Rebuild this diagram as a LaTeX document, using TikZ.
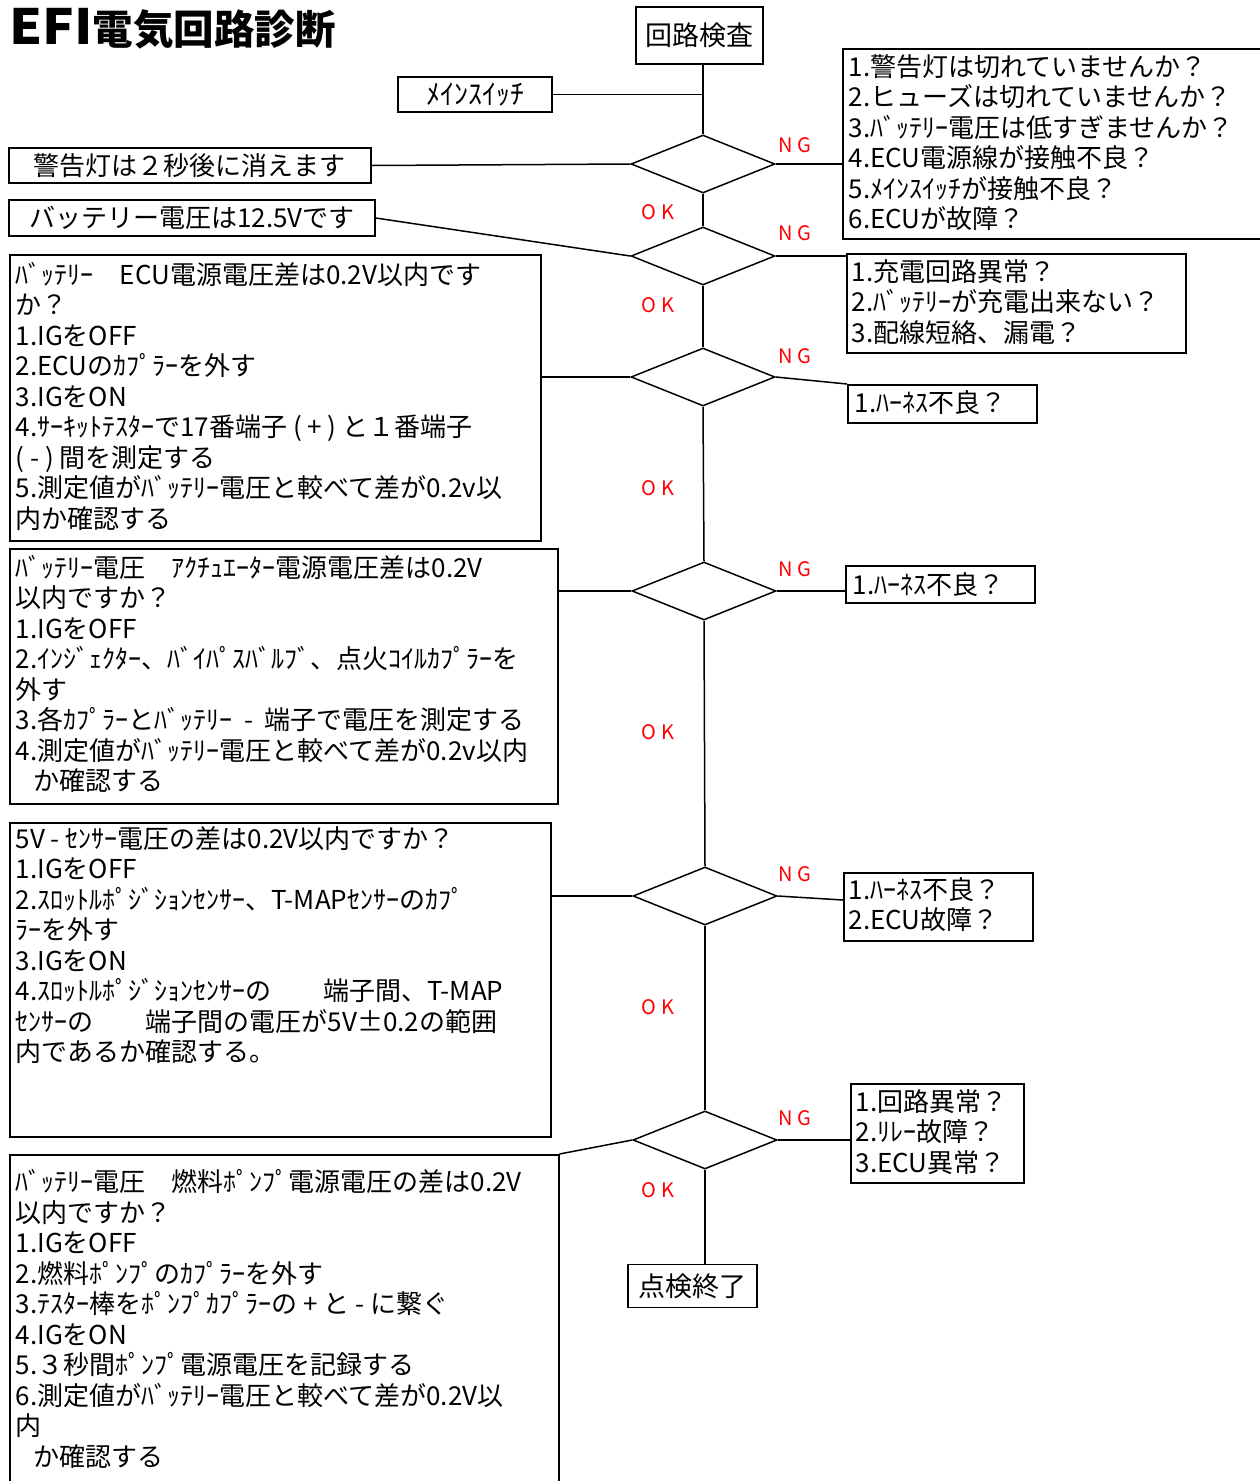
\documentclass[tikz,border=0pt]{standalone}
\usepackage{fontspec}
\newfontfamily\jp{Noto Sans CJK JP}
\usetikzlibrary{shapes.geometric}
\newcommand{\tb}[4]{\begin{minipage}[t][#2][t]{#1}\vspace*{#3}\raggedright\rule{0pt}{22pt}#4\end{minipage}}
\begin{document}
\begin{tikzpicture}[x=1pt,y=-1pt,
  bx/.style={draw, line width=1.5pt, inner xsep=6pt, inner ysep=0pt, anchor=north west, font=\fontsize{26pt}{30.5pt}\jp},
  cb/.style={draw, line width=1.5pt, inner sep=0pt, align=center, font=\fontsize{26pt}{30pt}\jp},
  dia/.style={draw, diamond, line width=1.5pt, minimum width=144pt, minimum height=58pt, inner sep=0pt},
  lab/.style={text=red, inner sep=0pt, font=\fontsize{20pt}{20pt}\jp},
  ln/.style={line width=1.5pt}]
\useasboundingbox (0,0) rectangle (1260,1481);
\clip (0,0) rectangle (1260,1481);

% title
\node[anchor=base west, inner sep=0pt, font=\fontsize{40.5pt}{41pt}\jp\bfseries] (title) at (9,44) {\scalebox{1.3}[1.2]{EFI}電気回路診断};

% centered single-line boxes
\node[cb, minimum width=127pt, minimum height=57pt, font=\fontsize{27pt}{30pt}\jp] (kairo) at (699.5,35.5) {回路検査};
\node[cb, minimum width=154pt, minimum height=35pt, font=\fontsize{28pt}{30pt}\jp] (main) at (475,94.5) {ﾒｲﾝｽｲｯﾁ};
\node[cb, minimum width=362pt, minimum height=35pt] (warn) at (190,165.5) {警告灯は２秒後に消えます};
\node[cb, minimum width=366pt, minimum height=36pt] (batt) at (192,218) {バッテリー電圧は12.5Vです};
\node[cb, minimum width=129pt, minimum height=43pt, font=\fontsize{27pt}{30pt}\jp] (end) at (692.5,1286) {点検終了};

% diamonds
\node[dia] (D1) at (703,164) {};
\node[dia] (D2) at (703,256) {};
\node[dia] (D3) at (703,377) {};
\node[dia] (D4) at (704,591) {};
\node[dia] (D5) at (705,896) {};
\node[dia] (D6) at (705,1140) {};

% left boxes
\node[bx] (B3) at (9,254) {\tb{519pt}{286pt}{7.5pt}{ﾊﾞｯﾃﾘｰ　ECU電源電圧差は0.2V以内です\\
か？\\
1.IGをOFF\\
2.ECUのｶﾌﾟﾗｰを外す\\
3.IGをON\\
4.ｻｰｷｯﾄﾃｽﾀｰで17番端子~(~+~)~と１番端子\\
(~-~)~間を測定する\\
5.測定値がﾊﾞｯﾃﾘｰ電圧と較べて差が0.2v以\\
内か確認する}};

\node[bx] (B4) at (9,548) {\tb{536pt}{255pt}{6.5pt}{ﾊﾞｯﾃﾘｰ電圧　ｱｸﾁｭｴｰﾀｰ電源電圧差は0.2V\\
以内ですか？\\
1.IGをOFF\\
2.ｲﾝｼﾞｪｸﾀｰ、ﾊﾞｲﾊﾟｽﾊﾞﾙﾌﾞ、点火ｺｲﾙｶﾌﾟﾗｰを\\
外す\\
3.各ｶﾌﾟﾗｰとﾊﾞｯﾃﾘｰ~~-~~端子で電圧を測定する\\
4.測定値がﾊﾞｯﾃﾘｰ電圧と較べて差が0.2v以内\\
\hspace*{18pt}か確認する}};

\node[bx] (B5) at (9,822) {\tb{529pt}{314pt}{3.5pt}{5V~-~ｾﾝｻｰ電圧の差は0.2V以内ですか？\\
1.IGをOFF\\
2.ｽﾛｯﾄﾙﾎﾟｼﾞｼｮﾝｾﾝｻｰ、T-MAPｾﾝｻｰのｶﾌﾟ\\
ﾗｰを外す\\
3.IGをON\\
4.ｽﾛｯﾄﾙﾎﾟｼﾞｼｮﾝｾﾝｻｰの　　端子間、T-MAP\\
ｾﾝｻｰの　　端子間の電圧が5V±0.2の範囲\\
内であるか確認する。}};

\node[bx] (B6) at (9,1154) {\tb{537pt}{350pt}{15pt}{ﾊﾞｯﾃﾘｰ電圧　燃料ﾎﾟﾝﾌﾟ電源電圧の差は0.2V\\
以内ですか？\\
1.IGをOFF\\
2.燃料ﾎﾟﾝﾌﾟのｶﾌﾟﾗｰを外す\\
3.ﾃｽﾀｰ棒をﾎﾟﾝﾌﾟｶﾌﾟﾗｰの~+~と~-~に繋ぐ\\
4.IGをON\\
5.３秒間ﾎﾟﾝﾌﾟ電源電圧を記録する\\
6.測定値がﾊﾞｯﾃﾘｰ電圧と較べて差が0.2V以\\
内\\
\hspace*{18pt}か確認する}};

% right boxes
\node[bx] (R1) at (842,48) {\tb{448pt}{190pt}{5.5pt}{1.警告灯は切れていませんか？\\
2.ヒューズは切れていませんか？\\
3.ﾊﾞｯﾃﾘｰ電圧は低すぎませんか？\\
4.ECU電源線が接触不良？\\
5.ﾒｲﾝｽｲｯﾁが接触不良？\\
6.ECUが故障？}};
\node[bx, inner xsep=5pt] (R2) at (846,253) {\tb{329pt}{99pt}{5.5pt}{1.充電回路異常？\\
2.ﾊﾞｯﾃﾘｰが充電出来ない？\\
3.配線短絡、漏電？}};
\node[bx, inner xsep=7pt] (H1) at (847,384) {\tb{175pt}{38pt}{5.5pt}{1.ﾊｰﾈｽ不良？}};
\node[bx, inner xsep=7pt] (H2) at (845,565) {\tb{175pt}{37pt}{6.5pt}{1.ﾊｰﾈｽ不良？}};
\node[bx, inner xsep=5pt] (H3) at (843,872) {\tb{179pt}{68pt}{4.5pt}{1.ﾊｰﾈｽ不良？\\
2.ECU故障？}};
\node[bx, inner xsep=5pt] (H4) at (850,1083) {\tb{163pt}{99pt}{5.5pt}{1.回路異常？\\
2.ﾘﾚｰ故障？\\
3.ECU異常？}};

% labels
\node[lab] (ng1) at (795,145) {N\hspace{5pt}G};
\node[lab] (ng2) at (795,233) {N\hspace{5pt}G};
\node[lab] (ng3) at (795,356) {N\hspace{5pt}G};
\node[lab] (ng4) at (795,569) {N\hspace{5pt}G};
\node[lab] (ng5) at (795,874) {N\hspace{5pt}G};
\node[lab] (ng6) at (795,1118) {N\hspace{5pt}G};
\node[lab] (ok1) at (658,212) {O\hspace{5pt}K};
\node[lab] (ok2) at (658,305) {O\hspace{5pt}K};
\node[lab] (ok3) at (658,488) {O\hspace{5pt}K};
\node[lab] (ok4) at (658,732) {O\hspace{5pt}K};
\node[lab] (ok5) at (658,1007) {O\hspace{5pt}K};
\node[lab] (ok6) at (658,1190) {O\hspace{5pt}K};

% connectors
\draw[ln] (D1.north |- kairo.south) -- (D1.north);
\draw[ln] (main.east) -- (main.east -| D1.north);
\draw[ln] (warn.east) -- (D1.west);
\draw[ln] (D1.east) -- (D1.east -| R1.west);
\draw[ln] (D1.south) -- (D2.north);
\draw[ln] (batt.east) -- (D2.west);
\draw[ln] (D2.east) -- (D2.east -| R2.west);
\draw[ln] (D2.south) -- (D3.north);
\draw[ln] (D3.west -| B3.east) -- (D3.west);
\draw[ln] (D3.east) -- (H1.north west);
\draw[ln] (D3.south) -- (D4.north);
\draw[ln] (D4.west -| B4.east) -- (D4.west);
\draw[ln] (D4.east) -- (D4.east -| H2.west);
\draw[ln] (D4.south) -- (D5.north);
\draw[ln] (D5.west -| B5.east) -- (D5.west);
\draw[ln] (D5.east) -- ([yshift=-28pt]H3.north west);
\draw[ln] (D5.south) -- (D6.north);
\draw[ln] (D6.east) -- (D6.east -| H4.west);
\draw[ln] (D6.west) -- (B6.north east);
\draw[ln] (D6.south) -- (D6.south |- end.north);
\end{tikzpicture}
\end{document}
